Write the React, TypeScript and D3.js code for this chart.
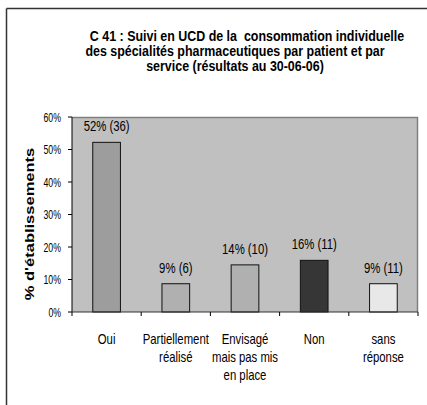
import React from "react";
import * as d3 from "d3";

const categories: string[][] = [
  ["Oui"],
  ["Partiellement", "réalisé"],
  ["Envisagé", "mais pas mis", "en place"],
  ["Non"],
  ["sans", "réponse"],
];
const values: number[] = [52.2, 8.7, 14.5, 15.9, 8.7];
const valueLabels: string[] = ["52% (36)", "9% (6)", "14% (10)", "16% (11)", "9% (11)"];
const barColors: string[] = ["#9d9d9d", "#b0b0b0", "#b0b0b0", "#363636", "#e8e8e8"];
const yTicks: number[] = [0, 10, 20, 30, 40, 50, 60];
const titleLines: string[] = [
  "C 41 : Suivi en UCD de la  consommation individuelle",
  "des spécialités pharmaceutiques par patient et par",
  "service (résultats au 30-06-06)",
];
const yAxisTitle = "% d'établissements";

const W = 427;
const H = 405;
const FONT = "'Liberation Sans', Arial, sans-serif";
const SX = 0.81; // horizontal compression of the picture

export default function App() {
  const left = 72, right = 418, top = 117, bottom = 312;
  const x = d3.scaleBand<number>().domain(d3.range(categories.length)).range([left, right]).paddingInner(0).paddingOuter(0);
  const y = d3.scaleLinear().domain([0, 60]).range([bottom, top]);
  const bw = x.bandwidth() * 0.4;
  const titleCenters = [247, 235, 235];

  const T = (props: { x: number; y: number; sx?: number; anchor?: string; size: number; bold?: boolean; children: React.ReactNode }) => (
    <text
      transform={`translate(${props.x},${props.y}) scale(${props.sx ?? SX},1)`}
      textAnchor={props.anchor ?? "middle"}
      fontFamily={FONT}
      fontSize={props.size}
      fontWeight={props.bold ? "bold" : "normal"}
      fill="#000"
      style={{ whiteSpace: "pre" }}
    >
      {props.children}
    </text>
  );

  return (
    <svg width={W} height={H} style={{ position: "absolute", left: 0, top: 0, display: "block" }}>
      <rect x={0} y={0} width={W} height={H} fill="#ffffff" />
      {/* outer frame (left & top) */}
      <line x1={6.5} y1={8.5} x2={6.5} y2={H} stroke="#333" strokeWidth={1.5} />
      <line x1={6.5} y1={8.5} x2={W} y2={8.5} stroke="#333" strokeWidth={1.5} />

      {/* title */}
      {titleLines.map((t, i) => (
        <T key={i} x={titleCenters[i]} y={41 + i * 15} size={15} bold sx={0.83}>{t}</T>
      ))}

      {/* plot area */}
      <rect x={left} y={top} width={right - left} height={bottom - top} fill="#c0c0c0" />
      <line x1={left} y1={top + 0.5} x2={right} y2={top + 0.5} stroke="#808080" strokeWidth={1.5} />
      <line x1={right - 0.5} y1={top} x2={right - 0.5} y2={bottom} stroke="#808080" strokeWidth={1.5} />

      {/* bars */}
      {values.map((v, i) => {
        const cx = (x(i) as number) + x.bandwidth() / 2;
        return (
          <g key={i}>
            <rect x={cx - bw / 2} y={y(v)} width={bw} height={bottom - y(v)} fill={barColors[i]} stroke="#111" strokeWidth={1} />
            <T x={cx} y={y(v) - 11} size={14}>{valueLabels[i]}</T>
          </g>
        );
      })}

      {/* axes */}
      <line x1={left} y1={top} x2={left} y2={bottom} stroke="#000" strokeWidth={1} />
      <line x1={left} y1={bottom} x2={right} y2={bottom} stroke="#333" strokeWidth={1.2} />
      {yTicks.map((t) => (
        <g key={t}>
          <line x1={left - 4} x2={left} y1={y(t)} y2={y(t)} stroke="#000" />
          <T x={left - 11} y={y(t) + 4.5} anchor="end" size={12.5} sx={0.7}>{`${t}%`}</T>
        </g>
      ))}
      {d3.range(categories.length + 1).map((i) => {
        const xx = i < categories.length ? (x(i) as number) : right;
        return <line key={i} x1={xx} x2={xx} y1={bottom} y2={bottom + 4} stroke="#000" />;
      })}

      {/* category labels */}
      {categories.map((lines, i) => {
        const cx = (x(i) as number) + x.bandwidth() / 2;
        return lines.map((l, j) => (
          <T key={`${i}-${j}`} x={cx} y={343.5 + j * 18.3} size={14}>{l}</T>
        ));
      })}

      {/* y axis title */}
      <text
        transform={`translate(34, ${(145 + 303) / 2}) scale(0.8,1) rotate(-90)`}
        textAnchor="middle"
        fontFamily={FONT}
        fontWeight="bold"
        fontSize={16.5}
        fill="#000"
      >
        {yAxisTitle}
      </text>
    </svg>
  );
}
